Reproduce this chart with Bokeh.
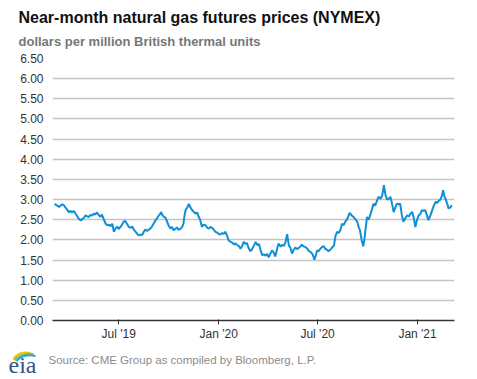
import pandas as pd
from bokeh.plotting import figure
from bokeh.models import (Range1d, FixedTicker, DatetimeTickFormatter,
                          ColumnDataSource, NumeralTickFormatter)
from bokeh.core.properties import value
from bokeh.layouts import column, row
from bokeh.embed import file_html
from bokeh.resources import INLINE

# ---------------- data ----------------
dates = [
    "2019-03-05", "2019-03-08", "2019-03-13", "2019-03-16", "2019-03-19", "2019-03-22",
    "2019-03-25", "2019-03-28", "2019-03-31", "2019-04-03", "2019-04-06", "2019-04-09",
    "2019-04-12", "2019-04-15", "2019-04-18", "2019-04-22", "2019-04-25", "2019-04-28",
    "2019-05-01", "2019-05-04", "2019-05-07", "2019-05-10", "2019-05-13", "2019-05-16",
    "2019-05-19", "2019-05-22", "2019-05-25", "2019-05-28", "2019-05-31", "2019-06-03",
    "2019-06-07", "2019-06-10", "2019-06-13", "2019-06-16", "2019-06-19", "2019-06-22",
    "2019-06-25", "2019-06-28", "2019-07-01", "2019-07-04", "2019-07-07", "2019-07-10",
    "2019-07-13", "2019-07-16", "2019-07-19", "2019-07-23", "2019-07-26", "2019-07-29",
    "2019-08-01", "2019-08-04", "2019-08-07", "2019-08-10", "2019-08-13", "2019-08-16",
    "2019-08-19", "2019-08-22", "2019-08-25", "2019-08-28", "2019-08-31", "2019-09-03",
    "2019-09-07", "2019-09-10", "2019-09-13", "2019-09-15", "2019-09-17", "2019-09-19",
    "2019-09-22", "2019-09-25", "2019-09-28", "2019-10-01", "2019-10-04", "2019-10-07",
    "2019-10-10", "2019-10-13", "2019-10-16", "2019-10-19", "2019-10-23", "2019-10-26",
    "2019-10-28", "2019-10-30", "2019-11-01", "2019-11-04", "2019-11-07", "2019-11-10",
    "2019-11-13", "2019-11-16", "2019-11-19", "2019-11-22", "2019-11-25", "2019-11-28",
    "2019-12-01", "2019-12-04", "2019-12-08", "2019-12-11", "2019-12-14", "2019-12-17",
    "2019-12-20", "2019-12-23", "2019-12-26", "2019-12-29", "2020-01-01", "2020-01-04",
    "2020-01-07", "2020-01-10", "2020-01-13", "2020-01-16", "2020-01-19", "2020-01-23",
    "2020-01-26", "2020-01-29", "2020-02-01", "2020-02-04", "2020-02-07", "2020-02-10",
    "2020-02-13", "2020-02-16", "2020-02-19", "2020-02-22", "2020-02-25", "2020-02-28",
    "2020-03-02", "2020-03-05", "2020-03-09", "2020-03-12", "2020-03-15", "2020-03-18",
    "2020-03-21", "2020-03-24", "2020-03-27", "2020-03-30", "2020-04-02", "2020-04-05",
    "2020-04-08", "2020-04-11", "2020-04-14", "2020-04-17", "2020-04-20", "2020-04-24",
    "2020-04-27", "2020-04-30", "2020-05-03", "2020-05-06", "2020-05-09", "2020-05-12",
    "2020-05-15", "2020-05-18", "2020-05-21", "2020-05-24", "2020-05-27", "2020-05-30",
    "2020-06-02", "2020-06-05", "2020-06-09", "2020-06-12", "2020-06-15", "2020-06-18",
    "2020-06-21", "2020-06-23", "2020-06-25", "2020-06-28", "2020-06-30", "2020-07-03",
    "2020-07-06", "2020-07-09", "2020-07-12", "2020-07-15", "2020-07-18", "2020-07-21",
    "2020-07-25", "2020-07-28", "2020-07-31", "2020-08-03", "2020-08-06", "2020-08-09",
    "2020-08-12", "2020-08-15", "2020-08-18", "2020-08-21", "2020-08-24", "2020-08-27",
    "2020-08-29", "2020-09-01", "2020-09-05", "2020-09-09", "2020-09-12", "2020-09-15",
    "2020-09-17", "2020-09-20", "2020-09-23", "2020-09-25", "2020-09-27", "2020-09-30",
    "2020-10-03", "2020-10-06", "2020-10-09", "2020-10-12", "2020-10-15", "2020-10-18",
    "2020-10-21", "2020-10-25", "2020-10-28", "2020-10-31", "2020-11-03", "2020-11-06",
    "2020-11-09", "2020-11-12", "2020-11-15", "2020-11-18", "2020-11-21", "2020-11-24",
    "2020-11-27", "2020-11-30", "2020-12-03", "2020-12-06", "2020-12-10", "2020-12-13",
    "2020-12-16", "2020-12-19", "2020-12-22", "2020-12-25", "2020-12-28", "2020-12-31",
    "2021-01-03", "2021-01-06", "2021-01-09", "2021-01-12", "2021-01-15", "2021-01-18",
    "2021-01-21", "2021-01-25", "2021-01-28", "2021-01-31", "2021-02-03", "2021-02-06",
    "2021-02-09", "2021-02-12", "2021-02-15", "2021-02-17", "2021-02-19", "2021-02-22",
    "2021-02-25", "2021-02-27", "2021-03-02", "2021-03-05",
]
prices = [
    2.90, 2.86, 2.82, 2.85, 2.88, 2.86,
    2.80, 2.75, 2.69, 2.72, 2.68, 2.72,
    2.66, 2.60, 2.53, 2.48, 2.52, 2.55,
    2.61, 2.58, 2.57, 2.62, 2.60, 2.65,
    2.63, 2.68, 2.62, 2.57, 2.63, 2.52,
    2.40, 2.36, 2.38, 2.34, 2.40, 2.20,
    2.28, 2.33, 2.27, 2.32, 2.38, 2.45,
    2.47, 2.40, 2.33, 2.30, 2.33, 2.25,
    2.20, 2.15, 2.11, 2.13, 2.12, 2.20,
    2.26, 2.22, 2.25, 2.28, 2.33, 2.40,
    2.49, 2.55, 2.61, 2.64, 2.69, 2.62,
    2.57, 2.55, 2.45, 2.35, 2.28, 2.32,
    2.24, 2.27, 2.31, 2.25, 2.28, 2.33,
    2.40, 2.60, 2.74, 2.80, 2.89, 2.80,
    2.74, 2.70, 2.65, 2.68, 2.58, 2.49,
    2.32, 2.38, 2.36, 2.30, 2.28, 2.32,
    2.30, 2.25, 2.20, 2.18, 2.15, 2.13,
    2.17, 2.15, 2.20, 2.12, 1.99, 1.95,
    1.93, 1.89, 1.91, 1.87, 1.85, 1.78,
    1.85, 1.95, 1.90, 1.92, 1.80, 1.72,
    1.76, 1.84, 1.95, 1.87, 1.90, 1.75,
    1.62, 1.64, 1.61, 1.65, 1.57, 1.66,
    1.74, 1.69, 1.59, 1.75, 1.91, 1.83,
    1.88, 1.85, 1.95, 2.14, 1.87, 1.80,
    1.66, 1.75, 1.81, 1.77, 1.80, 1.83,
    1.88, 1.84, 1.82, 1.78, 1.72, 1.70,
    1.66, 1.60, 1.51, 1.62, 1.74, 1.72,
    1.78, 1.82, 1.85, 1.78, 1.76, 1.72,
    1.76, 1.82, 1.85, 2.10, 2.20, 2.17,
    2.25, 2.40, 2.37, 2.45, 2.50, 2.60,
    2.67, 2.62, 2.57, 2.50, 2.45, 2.30,
    2.24, 2.00, 1.84, 2.00, 2.24, 2.57,
    2.50, 2.62, 2.75, 2.90, 2.85, 2.96,
    3.07, 3.02, 3.10, 3.36, 3.11, 3.00,
    3.02, 3.07, 2.90, 2.69, 2.80, 2.90,
    2.88, 2.90, 2.62, 2.45, 2.55, 2.61,
    2.58, 2.65, 2.69, 2.55, 2.32, 2.50,
    2.61, 2.64, 2.74, 2.72, 2.74, 2.62,
    2.49, 2.62, 2.74, 2.85, 2.94, 2.92,
    2.97, 3.00, 3.10, 3.23, 3.10, 3.00,
    2.88, 2.78, 2.80, 2.86,
]
y_ticks = [0.0, 0.5, 1.0, 1.5, 2.0, 2.5, 3.0, 3.5, 4.0, 4.5, 5.0, 5.5, 6.0, 6.5]
x_tick_dates = ["2019-07-01", "2020-01-01", "2020-07-01", "2021-01-01"]
x_start, x_end = "2019-03-01", "2021-03-10"

title_text = "Near-month natural gas futures prices (NYMEX)"
subtitle_text = "dollars per million British thermal units"
source_text = "Source: CME Group as compiled by Bloomberg, L.P."

FONT = "Liberation Sans"


def pixel_figure(height):
    """A borderless figure whose data units are pixels (y grows downward)."""
    fig = figure(width=477, height=height, output_backend="svg", toolbar_location=None,
                 x_axis_location=None, y_axis_location=None,
                 x_range=Range1d(0, 477), y_range=Range1d(height, 0),
                 min_border=0, min_border_left=0, min_border_right=0,
                 min_border_top=0, min_border_bottom=0)
    fig.grid.visible = False
    fig.outline_line_color = None
    return fig


# ---------------- header (title + subtitle) ----------------
h = pixel_figure(50)
h.text(x=[18], y=[17], text=[title_text], text_font=value(FONT),
       text_font_size="16px", text_font_style="bold", text_color="#111111",
       text_baseline="middle")
h.text(x=[18], y=[41], text=[subtitle_text], text_font=value(FONT),
       text_font_size="13px", text_font_style="bold", text_color="#777777",
       text_baseline="middle")

# ---------------- main chart ----------------
src = ColumnDataSource(dict(date=pd.to_datetime(dates), price=prices))

p = figure(width=477, height=300, output_backend="svg", toolbar_location=None,
           x_axis_type="datetime",
           x_range=Range1d(pd.Timestamp(x_start), pd.Timestamp(x_end)),
           y_range=Range1d(0, 6.5),
           min_border_left=52, min_border_right=23, min_border_top=8,
           min_border_bottom=30)
p.outline_line_color = None
p.background_fill_color = "white"
p.border_fill_color = "white"

p.line("date", "price", source=src, line_color="#0f8fd6", line_width=2)

# y axis
p.yaxis.ticker = FixedTicker(ticks=y_ticks)
p.yaxis.formatter = NumeralTickFormatter(format="0.00")
p.yaxis.axis_line_color = None
p.yaxis.major_tick_line_color = None
p.yaxis.major_tick_out = 0
p.yaxis.major_tick_in = 0
p.yaxis.minor_tick_line_color = None
p.yaxis.minor_tick_out = 0
p.yaxis.major_label_standoff = 9
p.yaxis.major_label_text_font = FONT
p.yaxis.major_label_text_font_size = "12px"
p.yaxis.major_label_text_color = "#333333"

p.ygrid.ticker = FixedTicker(ticks=y_ticks)
p.ygrid.grid_line_color = "#c4c4c4"
p.ygrid.grid_line_width = 1.5
p.xgrid.grid_line_color = None

# x axis
p.xaxis.ticker = FixedTicker(ticks=[pd.Timestamp(d).value // 10**6 for d in x_tick_dates])
fmt = "%b '%y"
p.xaxis.formatter = DatetimeTickFormatter(months=fmt, days=fmt, years=fmt, hours=fmt,
                                          minutes=fmt, seconds=fmt, milliseconds=fmt,
                                          microseconds=fmt, minsec=fmt, hourmin=fmt)
p.xaxis.axis_line_color = "#333333"
p.xaxis.axis_line_width = 1.5
p.xaxis.major_tick_line_color = "#333333"
p.xaxis.major_tick_out = 4
p.xaxis.major_tick_in = 1
p.xaxis.minor_tick_line_color = None
p.xaxis.major_label_standoff = 2
p.xaxis.major_label_text_font = FONT
p.xaxis.major_label_text_font_size = "12px"
p.xaxis.major_label_text_color = "#333333"

# ---------------- footer (logo + source) ----------------
f = pixel_figure(29)
f.bezier(x0=[13], y0=[9], x1=[30], y1=[2.5], cx0=[16], cy0=[3], cx1=[22], cy1=[1],
         line_color="#f2c200", line_width=2)
f.bezier(x0=[14], y0=[10], x1=[33], y1=[3.5], cx0=[18], cy0=[4], cx1=[25], cy1=[2.5],
         line_color="#8cc63f", line_width=2)
f.bezier(x0=[16], y0=[10.5], x1=[35], y1=[5.5], cx0=[21], cy0=[5], cx1=[28], cy1=[4],
         line_color="#2a9fd8", line_width=2)
f.text(x=[8], y=[14], text=["eia"], text_font=value("Liberation Serif"),
       text_font_size="24px", text_color="#35557a", text_baseline="middle")
f.text(x=[48], y=[9], text=[source_text], text_font=value(FONT),
       text_font_size="11.5px", text_color="#8c8c8c", text_baseline="middle")

layout = column(row(h), p, row(f), spacing=0)
open("out.html", "w").write(file_html(layout, INLINE))
